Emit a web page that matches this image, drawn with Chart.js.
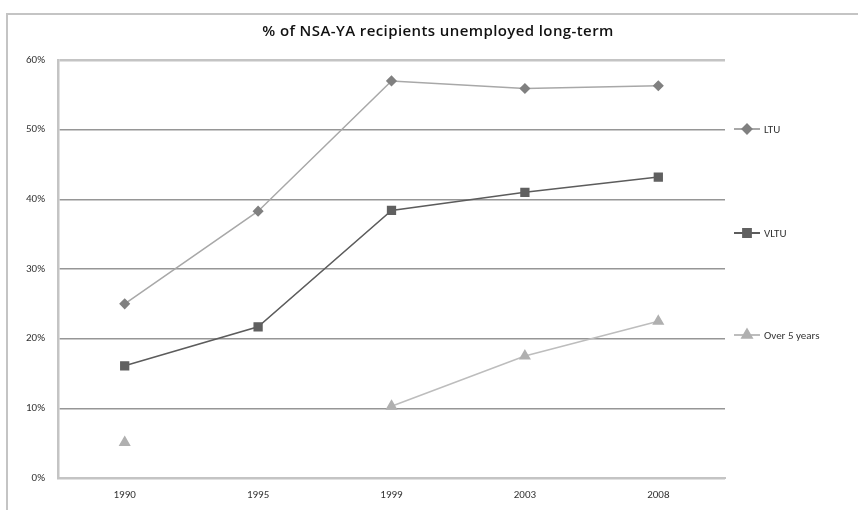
<!DOCTYPE html>
<html>
<head>
<meta charset="utf-8">
<script src="https://cdn.jsdelivr.net/npm/chart.js@4"></script>
<style>
  html, body { margin: 0; padding: 0; background: #fff; }
  #wrap { position: relative; width: 858px; height: 510px; }
  #frame { position: absolute; left: 6px; top: 13px; right: -4px; bottom: -4px;
           border-left: 2px solid #c4c4c4; border-top: 2px solid #c4c4c4; }
</style>
</head>
<body>
<div id="wrap">
  <div id="frame"></div>
  <canvas id="myChart" width="858" height="510"></canvas>
</div>
<script>
const years = ['1990', '1995', '1999', '2003', '2008'];
const ltu = [25.0, 38.3, 57.0, 55.9, 56.3];
const vltu = [16.1, 21.7, 38.4, 41.0, 43.2];
const over5 = [5.1, null, 10.3, 17.5, 22.5];
const yTicks = [0, 10, 20, 30, 40, 50, 60];

const font = "Carlito, 'Liberation Sans Narrow', 'Open Sans', sans-serif";

// legend drawn by hand so items sit where the original has them
const sideLegend = {
    id: 'sideLegend',
    afterDraw(chart) {
        const ctx = chart.ctx;
        const ys = [129, 233, 335];
        chart.data.datasets.forEach((ds, i) => {
            const y = ys[i];
            ctx.save();
            ctx.strokeStyle = ds.borderColor;
            ctx.lineWidth = 2;
            ctx.beginPath();
            ctx.moveTo(734, y);
            ctx.lineTo(760, y);
            ctx.stroke();
            ctx.fillStyle = ds.pointBackgroundColor;
            ctx.strokeStyle = ds.pointBorderColor;
            Chart.helpers.drawPoint(ctx, {
                pointStyle: ds.pointStyle,
                radius: ds.pointRadius,
                rotation: 0,
                borderWidth: 1
            }, 747, y);
            ctx.fillStyle = '#333';
            ctx.font = '11px ' + font;
            ctx.textBaseline = 'middle';
            ctx.fillText(ds.label, 764, y + 1);
            ctx.restore();
        });
    }
};

const data = {
    labels: years,
    datasets: [{
        label: 'LTU',
        data: ltu,
        borderColor: '#a8a8a8',
        borderWidth: 1.5,
        pointStyle: 'rectRot',
        pointRadius: 4.5,
        pointBackgroundColor: '#808080',
        pointBorderColor: '#808080'
    }, {
        label: 'VLTU',
        data: vltu,
        borderColor: '#5c5c5c',
        borderWidth: 1.5,
        pointStyle: 'rect',
        pointRadius: 5.5,
        pointBackgroundColor: '#606060',
        pointBorderColor: '#606060'
    }, {
        label: 'Over 5 years',
        data: over5,
        borderColor: '#bdbdbd',
        borderWidth: 1.5,
        pointStyle: 'triangle',
        pointRadius: 5.5,
        pointBackgroundColor: '#b0b0b0',
        pointBorderColor: '#b0b0b0',
        spanGaps: false
    }]
};

const config = {
    type: 'line',
    data: data,
    options: {
        responsive: false,
        animation: false,
        layout: { padding: { top: 60, right: 133, bottom: 0, left: 0 } },
        plugins: {
            legend: { display: false },
            tooltip: { enabled: false },
            title: { display: false }
        },
        scales: {
            x: {
                offset: true,
                grid: { display: false, drawTicks: false },
                border: { color: '#c4c4c4', width: 2 },
                ticks: { color: '#333', font: { family: font, size: 11 }, padding: 11, maxRotation: 0 },
                afterFit: s => { s.height = 32; }
            },
            y: {
                min: 0,
                max: 60,
                afterBuildTicks: s => { s.ticks = yTicks.map(v => ({ value: v })); },
                grid: {
                    drawTicks: false,
                    color: c => (c.tick.value === 0 || c.tick.value === 60) ? '#c4c4c4' : '#969696',
                    lineWidth: c => (c.tick.value === 0 || c.tick.value === 60) ? 2.5 : 1.5
                },
                border: { color: '#c4c4c4', width: 2.5 },
                ticks: {
                    color: '#333',
                    font: { family: font, size: 11 },
                    padding: 13,
                    callback: v => v + '%'
                },
                afterFit: s => { s.width = 58; }
            }
        }
    },
    plugins: [sideLegend, {
        id: 'titleText',
        afterDraw(chart) {
            const ctx = chart.ctx;
            ctx.save();
            ctx.fillStyle = '#111';
            ctx.font = "600 15px 'Open Sans', sans-serif";
            ctx.letterSpacing = '0.4px';
            ctx.textAlign = 'center';
            ctx.textBaseline = 'middle';
            ctx.fillText('% of NSA-YA recipients unemployed long-term', 438, 32);
            ctx.restore();
        }
    }]
};

let lineCanvas = document.getElementById('myChart');
var myChart = new Chart(lineCanvas, config);
</script>
</body>
</html>
